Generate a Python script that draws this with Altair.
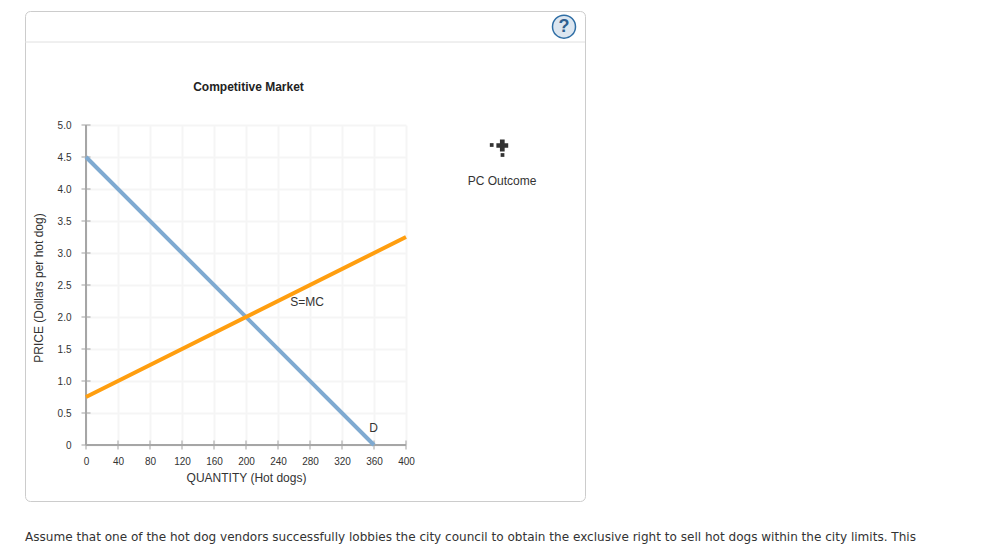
import altair as alt
import pandas as pd

x_ticks = [0, 40, 80, 120, 160, 200, 240, 280, 320, 360, 400]
y_ticks = [0, 0.5, 1.0, 1.5, 2.0, 2.5, 3.0, 3.5, 4.0, 4.5, 5.0]
demand_q = [0, 360]
demand_p = [4.5, 0]
supply_q = [0, 400]
supply_p = [0.75, 3.25]

X = alt.Scale(domain=[0, 400], nice=False, zero=False)
Y = alt.Scale(domain=[0, 5], nice=False, zero=False)
AXIS = "#a6a6a6"
GRID = "#f5f5f5"
LABEL = "#333333"
FONT = "Liberation Sans"

xt = pd.DataFrame({"q": x_ticks})
yt = pd.DataFrame({"p": y_ticks})
demand = pd.DataFrame({"q": demand_q, "p": demand_p})
supply = pd.DataFrame({"q": supply_q, "p": supply_p})
pt = pd.DataFrame({"q": [0], "p": [0]})


def txt(s, x, y, size=11, weight="normal", color=LABEL, font=FONT, align="center"):
    return alt.Chart(pt).mark_text(
        text=s, fontSize=size, fontWeight=weight, color=color, font=font,
        align=align, baseline="middle",
    ).encode(x=alt.value(x), y=alt.value(y))


def frame_line(x, x2, y, y2, color, width):
    return alt.Chart(pt).mark_rule(color=color, strokeWidth=width).encode(
        x=alt.value(x), x2=alt.value(x2), y=alt.value(y), y2=alt.value(y2))


card = alt.Chart(pt).mark_rect(
    fill="white", fillOpacity=0, stroke="#cccccc", strokeWidth=1, cornerRadius=5
).encode(x=alt.value(-60.5), x2=alt.value(499.5), y=alt.value(-113.5), y2=alt.value(376.5))
header = frame_line(-61, 499, -83, -83, "#e0e0e0", 1)

x_axis = alt.Axis(
    values=x_ticks, grid=True, gridColor=GRID, gridWidth=2, domain=False, ticks=False,
    labelFont=FONT, labelFontSize=10, labelColor=LABEL, labelPadding=11, labelAngle=0,
    labelFlush=False, labelBound=False, labelOverlap=False,
    title="QUANTITY (Hot dogs)", titleFont=FONT, titleFontSize=12, titleFontWeight="normal",
    titleColor=LABEL, titlePadding=6)
y_axis = alt.Axis(
    values=y_ticks, grid=True, gridColor=GRID, gridWidth=2, domain=False, ticks=False,
    labelExpr="datum.value === 0 ? '0' : format(datum.value, '.1f')",
    labelFont=FONT, labelFontSize=10, labelColor=LABEL, labelPadding=15,
    labelFlush=False, labelBound=False, labelOverlap=False,
    title="PRICE (Dollars per hot dog)", titleFont=FONT, titleFontSize=12,
    titleFontWeight="normal", titleColor=LABEL, titleX=-41, titleY=162.5)

axes_base = alt.Chart(pt).mark_point(opacity=0).encode(
    x=alt.X("q:Q", scale=X, axis=x_axis),
    y=alt.Y("p:Q", scale=Y, axis=y_axis),
)

x_domain = alt.Chart(pd.DataFrame({"q": [0, 400], "p": [0, 0]})).mark_line(color=AXIS, strokeWidth=2).encode(
    x=alt.X("q:Q", scale=X, axis=x_axis), y=alt.Y("p:Q", scale=Y, axis=y_axis))
y_domain = alt.Chart(pd.DataFrame({"q": [0, 0], "p": [0, 5]})).mark_line(color=AXIS, strokeWidth=2).encode(
    x=alt.X("q:Q", scale=X, axis=x_axis), y=alt.Y("p:Q", scale=Y, axis=y_axis))
x_marks = alt.Chart(xt.assign(p=0)).mark_tick(color=AXIS, size=9, thickness=1.5, orient="vertical").encode(
    x=alt.X("q:Q", scale=X, axis=x_axis), y=alt.Y("p:Q", scale=Y, axis=y_axis))
y_marks = alt.Chart(yt.assign(q=0)).mark_tick(color=AXIS, size=9, thickness=1.5, orient="horizontal").encode(
    x=alt.X("q:Q", scale=X, axis=x_axis), y=alt.Y("p:Q", scale=Y, axis=y_axis))

d_line = alt.Chart(demand).mark_line(color="#7faad1", strokeWidth=4).encode(
    x=alt.X("q:Q", scale=X, axis=x_axis), y=alt.Y("p:Q", scale=Y, axis=y_axis))
s_line = alt.Chart(supply).mark_line(color="#ff9e0f", strokeWidth=4).encode(
    x=alt.X("q:Q", scale=X, axis=x_axis), y=alt.Y("p:Q", scale=Y, axis=y_axis))

legend_plus = alt.Chart(pt).mark_point(
    shape="cross", filled=True, color="#333333", size=140, opacity=1
).encode(x=alt.value(416.3), y=alt.value(20.5))
legend_sq1 = alt.Chart(pt).mark_square(color="#333333", size=14, opacity=1).encode(
    x=alt.value(405.7), y=alt.value(20))
legend_sq2 = alt.Chart(pt).mark_square(color="#333333", size=14, opacity=1).encode(
    x=alt.value(416.5), y=alt.value(30))

help_circle = alt.Chart(pt).mark_point(
    shape="circle", filled=True, fill="#dce6f0", stroke="#2f6ea5", strokeWidth=1.5, size=529, opacity=1
).encode(x=alt.value(478), y=alt.value(-98.3))

chart = alt.layer(
    axes_base, x_domain, y_domain, x_marks, y_marks, d_line, s_line, card, header,
    txt("Competitive Market", 162.5, -38, size=12, weight="bold", color="#222222"),
    txt("S=MC", 221, 176.5, size=12),
    txt("D", 287.5, 303, size=12),
    legend_plus, legend_sq1, legend_sq2,
    txt("PC Outcome", 416, 56, size=12),
    help_circle,
    txt("?", 478, -97.8, size=18, weight="bold", color="#2f5f8f"),
    txt("Assume that one of the hot dog vendors successfully lobbies the city council to obtain the exclusive right to sell hot dogs within the city limits. This",
        -61, 412, size=12.05, color="#333333", font="DejaVu Sans", align="left"),
).properties(
    width=320, height=320,
    background="white",
    autosize=alt.AutoSizeParams(type="none"),
    padding={"left": 78, "top": 117, "right": 560, "bottom": 100},
    view=alt.ViewBackground(stroke=None, strokeWidth=0),
)

chart.save("out.html", embed_options={"renderer": "svg", "actions": False})
